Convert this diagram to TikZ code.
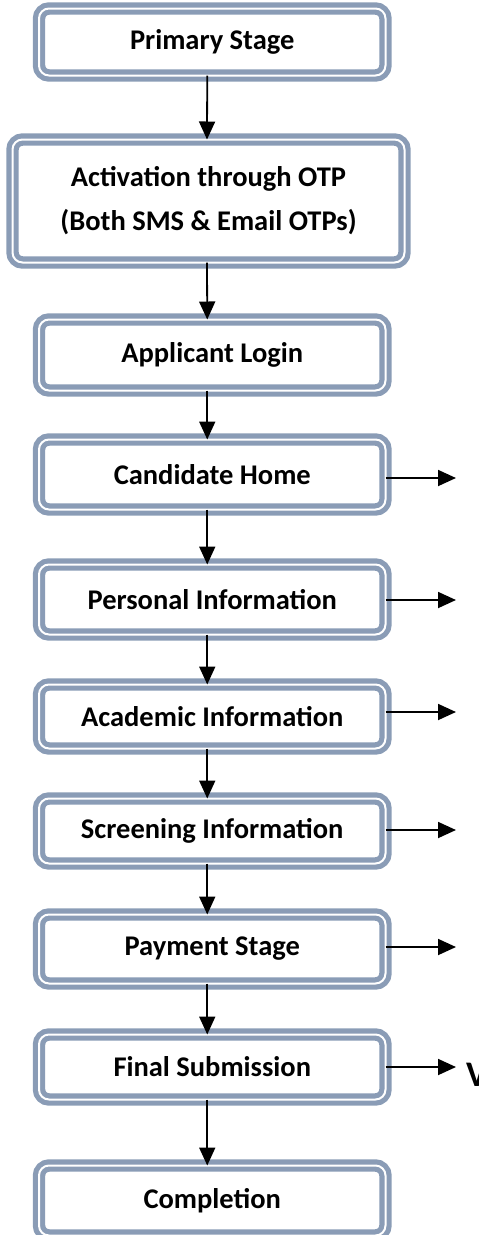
\documentclass[tikz,border=0pt]{standalone}
\usepackage{fontspec}
\setmainfont{Carlito}
\usetikzlibrary{arrows.meta}
\definecolor{boxc}{RGB}{138,156,182}
\definecolor{shad}{RGB}{212,215,219}
\tikzset{
  stagebox/.style={rounded corners=10pt, draw=boxc, double=white, double distance=2pt,
    line width=5.2pt, fill=white, preaction={draw=shad, line width=6.6pt},
    minimum width=346.5pt, align=center, inner sep=0pt, outer sep=0pt,
    font=\fontsize{28.5}{44}\selectfont\bfseries},
  arr/.style={line width=1.8pt, -{Triangle[length=18pt,width=16pt]}},
}
\begin{document}
\begin{tikzpicture}[x=1pt,y=-1pt]
\useasboundingbox (0,0) rectangle (479,1235);
\clip (0,0) rectangle (479,1235);
\node[stagebox, minimum height=67pt] (ps) at (212.25,42) {Primary Stage};
\node[stagebox, minimum height=123pt, minimum width=392pt] (act) at (208.5,201) {Activation through OTP\\(Both SMS \& Email OTPs)};
\node[stagebox, minimum height=71pt] (al) at (212.25,355) {Applicant Login};
\node[stagebox, minimum height=70pt] (ch) at (212.25,474.5) {Candidate Home};
\node[stagebox, minimum height=70pt] (pi) at (212.25,599.5) {Personal Information};
\node[stagebox, minimum height=64pt] (ai) at (212.25,716.5) {Academic Information};
\node[stagebox, minimum height=65pt] (si) at (212.25,831) {Screening Information};
\node[stagebox, minimum height=69pt] (pay) at (212.25,949) {Payment Stage};
\node[stagebox, minimum height=65pt] (fs) at (212.25,1067) {Final Submission};
\node[stagebox, minimum height=70pt] (cp) at (212.25,1200.5) {Completion};
\node[anchor=west, inner sep=0pt, font=\fontsize{36}{36}\selectfont\bfseries] (v) at (466,1075) {V};
% down arrows
\draw[arr] ([xshift=-5pt]ps.south) -- ([xshift=-1.5pt]act.north);
\draw[arr] ([xshift=-1.5pt]act.south) -- ([xshift=-5pt]al.north);
\draw[arr] ([xshift=-5pt]al.south) -- ([xshift=-5pt]ch.north);
\draw[arr] ([xshift=-5pt]ch.south) -- ([xshift=-5pt]pi.north);
\draw[arr] ([xshift=-5pt]pi.south) -- ([xshift=-5pt]ai.north);
\draw[arr] ([xshift=-5pt]ai.south) -- ([xshift=-5pt]si.north);
\draw[arr] ([xshift=-5pt]si.south) -- ([xshift=-5pt]pay.north);
\draw[arr] ([xshift=-5pt]pay.south) -- ([xshift=-5pt]fs.north);
\draw[arr] ([xshift=-5pt]fs.south) -- ([xshift=-5pt]cp.north);
% right arrows
\coordinate (e1) at (456,478);
\coordinate (e2) at (456,600);
\coordinate (e3) at (456,712);
\coordinate (e4) at (456,830);
\coordinate (e5) at (456,947);
\coordinate (e6) at (456,1067);
\draw[arr] (ch.east |- e1) -- (e1);
\draw[arr] (pi.east |- e2) -- (e2);
\draw[arr] (ai.east |- e3) -- (e3);
\draw[arr] (si.east |- e4) -- (e4);
\draw[arr] (pay.east |- e5) -- (e5);
\draw[arr] (fs.east |- e6) -- (e6);
\end{tikzpicture}
\end{document}
